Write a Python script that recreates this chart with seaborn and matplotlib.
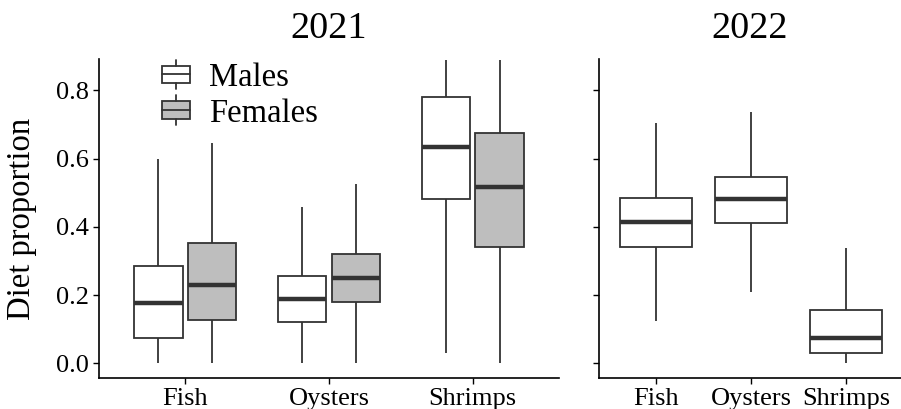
import numpy as np
import pandas as pd
import seaborn as sns
import matplotlib.pyplot as plt
from matplotlib.patches import Patch, Rectangle
from matplotlib.lines import Line2D
from matplotlib.legend_handler import HandlerPatch

# five-number summaries: [low whisker, Q1, median, Q3, high whisker]
prey = ["Fish", "Oysters", "Shrimps"]
sexes = ["Males", "Females"]

males_2021 = {
    "Fish":    [0.000, 0.073, 0.176, 0.284, 0.598],
    "Oysters": [0.000, 0.120, 0.190, 0.255, 0.457],
    "Shrimps": [0.029, 0.481, 0.633, 0.780, 0.890],
}
females_2021 = {
    "Fish":    [0.000, 0.126, 0.229, 0.352, 0.645],
    "Oysters": [0.000, 0.179, 0.249, 0.319, 0.527],
    "Shrimps": [0.000, 0.340, 0.516, 0.674, 0.890],
}
all_2022 = {
    "Fish":    [0.123, 0.340, 0.414, 0.486, 0.703],
    "Oysters": [0.209, 0.410, 0.483, 0.546, 0.738],
    "Shrimps": [0.000, 0.031, 0.074, 0.155, 0.339],
}

rows = []
for sex, d in zip(sexes, [males_2021, females_2021]):
    for p in prey:
        for v in d[p]:
            rows.append(("2021", p, sex, v))
for p in prey:
    for v in all_2022[p]:
        rows.append(("2022", p, "All", v))
df = pd.DataFrame(rows, columns=["year", "prey", "sex", "value"])

sns.set_style("ticks")
plt.rcParams["font.family"] = ["Liberation Serif", "DejaVu Serif"]
plt.rcParams["text.color"] = "black"
plt.rcParams["axes.labelcolor"] = "black"
plt.rcParams["axes.edgecolor"] = "black"

edge = "#333333"
box_kw = dict(whis=np.inf, showcaps=False, linecolor=edge, linewidth=1.3,
              saturation=1, medianprops=dict(linewidth=3.2, color=edge))

fig = plt.figure(figsize=(9.01, 4.09), dpi=100)
ax1 = fig.add_axes([99 / 901, 31 / 409, 460 / 901, 319 / 409])
ax2 = fig.add_axes([599 / 901, 31 / 409, 302 / 901, 319 / 409])

sns.boxplot(data=df[df.year == "2021"], x="prey", y="value", hue="sex",
            order=prey, hue_order=sexes,
            palette={"Males": "white", "Females": "#bebebe"},
            width=0.75, gap=0.1, ax=ax1, **box_kw)
sns.boxplot(data=df[df.year == "2022"], x="prey", y="value", order=prey,
            color="white", width=0.75, ax=ax2, **box_kw)


class BoxKey(HandlerPatch):
    def create_artists(self, legend, orig_handle, xdescent, ydescent,
                       width, height, fontsize, trans):
        r = Rectangle((-xdescent, -ydescent + height * 0.15), width, height * 0.7,
                      facecolor=orig_handle.get_facecolor(), edgecolor=edge,
                      linewidth=1.3, transform=trans)
        cx = -xdescent + width / 2
        mid = Line2D([-xdescent, -xdescent + width], [-ydescent + height / 2] * 2,
                     color=edge, linewidth=1.3, transform=trans)
        w1 = Line2D([cx, cx], [-ydescent - height * 0.1, -ydescent + height * 0.15],
                    color=edge, linewidth=1.3, transform=trans)
        w2 = Line2D([cx, cx], [-ydescent + height * 0.85, -ydescent + height * 1.1],
                    color=edge, linewidth=1.3, transform=trans)
        return [r, mid, w1, w2]


handles = [Patch(facecolor="white"), Patch(facecolor="#bebebe")]
ax1.legend(handles, sexes, handler_map={Patch: BoxKey()}, frameon=False,
           loc="upper left", bbox_to_anchor=((162 - 99) / 460, (378 - 62) / 319),
           borderpad=0, borderaxespad=0, fontsize=23.5, handlelength=0.85,
           handleheight=0.8, handletextpad=0.6, labelspacing=0.15)

for ax, title in [(ax1, "2021"), (ax2, "2022")]:
    ax.set_ylim(-0.043, 0.892)
    ax.set_xlim(-0.6, 2.6 if ax is ax1 else 2.58)
    ax.set_yticks([0.0, 0.2, 0.4, 0.6, 0.8])
    ax.set_title(title, fontsize=27.5, pad=15, color="black")
    ax.set_xlabel("")
    ax.tick_params(labelsize=19, length=4, width=1, colors="black", pad=3)
    sns.despine(ax=ax)
    for s in ["left", "bottom"]:
        ax.spines[s].set_linewidth(1.2)
    ax.set_facecolor("white")

ax1.yaxis.set_major_formatter(plt.FuncFormatter(lambda v, _: f"{v:.1f}"))
ax1.set_ylabel("Diet proportion", fontsize=23.5)
ax1.yaxis.set_label_coords((37 - 99) / 460, 0.5)
ax2.set_ylabel("")
ax2.set_yticklabels([])

fig.savefig("out.png", dpi=100)
